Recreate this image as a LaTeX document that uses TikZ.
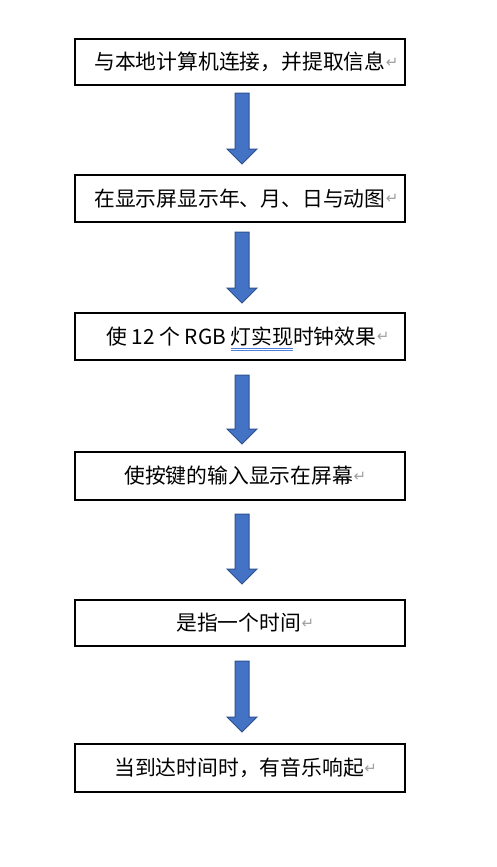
\documentclass[tikz,border=0pt]{standalone}
\usepackage{fontspec}
\setmainfont{Noto Sans CJK SC}
\newfontfamily\dejavu{DejaVu Sans}
\usetikzlibrary{calc}
\definecolor{arrfill}{HTML}{4472C4}
\definecolor{arrline}{HTML}{2F528F}
\definecolor{retgray}{HTML}{A0A0A0}
\definecolor{ulblue}{HTML}{4F7FD8}
\newcommand\retmark{\hspace{0.5bp}{\dejavu\fontsize{15}{15}\selectfont\color{retgray}\raisebox{2.5bp}{↵}}}
\newcommand\dblul[1]{\setbox0\hbox{#1}\rlap{\color{ulblue}\rule[-4.2bp]{\wd0}{0.7bp}}\rlap{\color{ulblue}\rule[-6.4bp]{\wd0}{0.7bp}}\box0}
\tikzset{
  box/.style={draw=black, line width=2bp, minimum width=330bp, inner sep=0pt},
  lbl/.style={anchor=base west, inner sep=0pt, font=\fontsize{20.8bp}{24bp}\selectfont, text=black},
  blockarrow/.style={draw=arrline, fill=arrfill, line width=1bp, line join=miter}
}
\newcommand\blockarr[2]{%
  \draw[blockarrow] ($(#1)+(-7,0)$) -- ($(#1)+(7,0)$) -- ($(#2)+(7,-15)$) -- ($(#2)+(15,-15)$) -- (#2) -- ($(#2)+(-15,-15)$) -- ($(#2)+(-7,-15)$) -- cycle;}
\begin{document}
\begin{tikzpicture}[x=1bp, y=-1bp]
\useasboundingbox (0,0) rectangle (497,867);
\fill[white] (0,0) rectangle (497,867);
% boxes
\node[box, minimum height=46bp] (b1) at (240,62) {};
\node[box, minimum height=47bp] (b2) at (240,198.5) {};
\node[box, minimum height=47bp] (b3) at (240,336.5) {};
\node[box, minimum height=48bp] (b4) at (240,476) {};
\node[box, minimum height=46bp] (b5) at (240,623) {};
\node[box, minimum height=48bp] (b6) at (240,768) {};
% texts
\node[lbl] (t1) at (94,69.5) {与本地计算机连接，并提取信息\retmark};
\node[lbl] (t2) at (94,206) {在显示屏显示年、月、日与动图\retmark};
\node[lbl] (t3) at (106,344) {使 12 个 RGB \dblul{灯实现}时钟效果\retmark};
\node[lbl] (t4) at (124,483.5) {使按键的输入显示在屏幕\retmark};
\node[lbl] (t5) at (176,630.5) {是指一个时间\retmark};
\node[lbl] (t6) at (114,775.5) {当到达时间时，有音乐响起\retmark};
% arrows
\coordinate (a1t) at (242,93);  \coordinate (a1b) at (242,164);
\coordinate (a2t) at (242,232); \coordinate (a2b) at (242,303);
\coordinate (a3t) at (242,375); \coordinate (a3b) at (242,444);
\coordinate (a4t) at (242,514); \coordinate (a4b) at (242,584);
\coordinate (a5t) at (242,661); \coordinate (a5b) at (242,732);
\blockarr{a1t}{a1b}
\blockarr{a2t}{a2b}
\blockarr{a3t}{a3b}
\blockarr{a4t}{a4b}
\blockarr{a5t}{a5b}
\end{tikzpicture}
\end{document}
